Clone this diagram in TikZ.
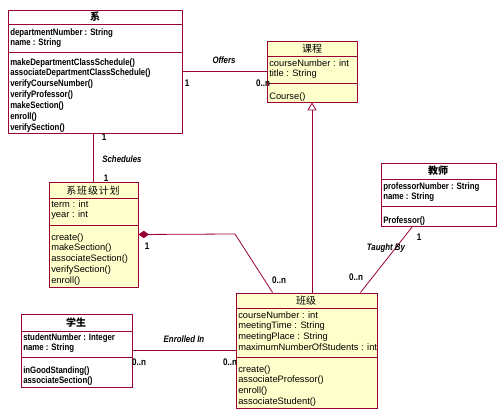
\documentclass[tikz,border=0pt]{standalone}
\usepackage{fontspec}
\setmainfont{Liberation Sans}
\newfontfamily\narrowfont[FakeStretch=0.84]{Liberation Sans}
\newfontfamily\cjk{Noto Sans CJK SC}
\usetikzlibrary{fit,calc,arrows.meta}
\definecolor{umlred}{RGB}{153,0,51}
\definecolor{umlfill}{RGB}{255,255,204}

\begin{document}
\begin{tikzpicture}[x=0.75pt,y=-0.75pt,
    box/.style={draw=umlred, line width=0.65pt, inner sep=0pt},
    sep/.style={draw=umlred, line width=0.65pt},
    link/.style={draw=umlred, line width=0.6pt},
    members/.style={anchor=north west, inner sep=0pt, align=left, font=\fontsize{7}{8.2}\selectfont},
    bfmembers/.style={members, font=\fontsize{7}{8.2}\selectfont\narrowfont\bfseries},
    title/.style={inner sep=0pt, font=\fontsize{7.5}{8}\selectfont\cjk},
    bftitle/.style={inner sep=0pt, font=\fontsize{7.5}{8}\selectfont\cjk\bfseries},
    role/.style={inner sep=0pt, font=\fontsize{7}{8}\selectfont\narrowfont\bfseries\itshape},
    mult/.style={inner sep=0pt, font=\fontsize{7.2}{8}\selectfont\narrowfont\bfseries}]
    \useasboundingbox (0,0) rectangle (504,416);

    % draw classes
    \node[box, fit={(8,10) (182,133)}] (dept) {};
    \node[box, fill=umlfill, fit={(267,41) (357,102)}] (course) {};
    \node[box, fill=umlfill, fit={(49,182) (138,287)}] (plan) {};
    \node[box, fill=umlfill, fit={(236,293) (377,408)}] (section) {};
    \node[box, fit={(381,163) (496,226)}] (prof) {};
    \node[box, fit={(21,314) (132,387)}] (student) {};

    % draw compartment lines
    \draw[sep] (8,24) -- (182,24) (8,52) -- (182,52);
    \draw[sep] (267,56) -- (357,56) (267,83) -- (357,83);
    \draw[sep] (49,198) -- (138,198) (49,225) -- (138,225);
    \draw[sep] (236,308) -- (377,308) (236,357) -- (377,357);
    \draw[sep] (381,179) -- (496,179) (381,206) -- (496,206);
    \draw[sep] (21,331) -- (132,331) (21,357) -- (132,357);

    % draw titles
    \node[bftitle] (deptname) at (95,17) {系};
    \node[title] (coursename) at (312,49) {课程};
    \node[title] (planname) at (93,191) {系\kern0.6pt班\kern0.6pt级\kern0.6pt计\kern0.6pt划};
    \node[title] (sectionname) at (306,301) {班级};
    \node[bftitle] (profname) at (438,171) {教师};
    \node[bftitle] (studentname) at (76,323) {学生};

    % draw attributes and operations
    \node[bfmembers] (deptattr) at (10,28) {departmentNumber : String\\name : String};
    \node[bfmembers] (deptops) at (10,58) {makeDepartmentClassSchedule()\\associateDepartmentClassSchedule()\\verifyCourseNumber()\\verifyProfessor()\\makeSection()\\enroll()\\verifySection()};
    \node[members] (courseattr) at (269,59) {courseNumber : int\\title : String};
    \node[members] (courseops) at (269,92) {Course()};
    \node[members] (planattr) at (51,200) {term : int\\year : int};
    \node[members] (planops) at (51,233) {create()\\makeSection()\\associateSection()\\verifySection()\\enroll()};
    \node[members] (sectionattr) at (238,311) {courseNumber : int\\meetingTime : String\\meetingPlace : String\\maximumNumberOfStudents : int};
    \node[members] (sectionops) at (238,365) {create()\\associateProfessor()\\enroll()\\associateStudent()};
    \node[bfmembers] (profattr) at (383,182) {professorNumber : String\\name : String};
    \node[bfmembers] (profops) at (383,216) {Professor()};
    \node[bfmembers] (studentattr) at (23,333) {studentNumber : Integer\\name : String};
    \node[bfmembers] (studentops) at (23,366) {inGoodStanding()\\associateSection()};

    % draw relations
    \draw[link] (course.west) -- (course.west -| dept.east);
    \draw[link] (plan.north) -- (plan.north |- dept.south);
    \draw[link, -{Triangle[open, length=6pt, width=6.8pt]}] (section.north -| course.south) -- (course.south);
    \coordinate (bend) at (235,234);
    \draw[link, {Diamond[length=8pt, width=5.5pt]}-] (plan.east) -- (bend) -- ($(section.north west)+(37,0)$);
    \draw[link] ($(prof.south west)+(32,0)$) -- ($(section.north east)+(-17,0)$);
    \draw[link] (student.east) -- (student.east -| section.west);

    % draw labels
    \node[role] (offers) at (224,60) {Offers};
    \node[mult] (offers1) at (187,83) {1};
    \node[mult] (offersn) at (263,83) {0..n};
    \node[role] (schedules) at (122,159) {Schedules};
    \node[mult] (sched1) at (104,137) {1};
    \node[mult] (sched2) at (106,178) {1};
    \node[mult] (comp1) at (147,246) {1};
    \node[mult] (compn) at (279,280) {0..n};
    \node[role] (taught) at (386,248) {Taught By};
    \node[mult] (taught1) at (419,237) {1};
    \node[mult] (taughtn) at (356,277) {0..n};
    \node[role] (enrolled) at (184,339) {Enrolled In};
    \node[mult] (enrolln1) at (139,362) {0..n};
    \node[mult] (enrolln2) at (230,362) {0..n};
\end{tikzpicture}
\end{document}
